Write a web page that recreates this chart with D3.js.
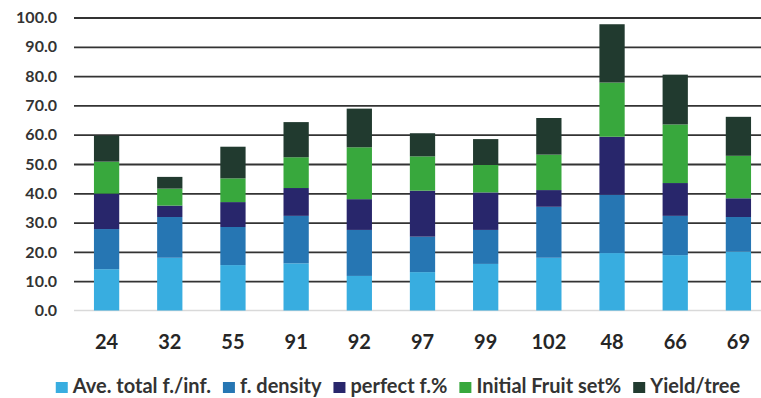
<!DOCTYPE html>
<html>
<head>
<meta charset="utf-8">
<script src="https://cdn.jsdelivr.net/npm/d3@7"></script>
<style>
  html, body { margin: 0; padding: 0; background: #fff; }
  svg { display: block; }
  text { font-family: Lato, "Open Sans", sans-serif; font-weight: 700; }
</style>
</head>
<body>
<svg id="chart" width="761" height="398"></svg>
<script>
// Genotypes along the x axis
const categories = ["24", "32", "55", "91", "92", "97", "99", "102", "48", "66", "69"];

// Series names, stacked from the bottom up
const seriesNames = ["Ave. total f./inf.", "f. density", "perfect f.%", "Initial Fruit set%", "Yield/tree"];

// Values per genotype for each series
const aveTotal      = [14.1, 18.0, 15.5, 16.1, 11.8, 13.1, 15.9, 18.0, 19.6, 18.9, 20.1];
const fDensity      = [13.7, 13.9, 13.0, 16.2, 15.7, 12.1, 11.6, 17.4, 19.9, 13.4, 11.8];
const perfectF      = [12.1,  3.9,  8.5,  9.5, 10.5, 15.7, 12.8,  5.7, 19.8, 11.2,  6.4];
const initialFruit  = [10.9,  5.8,  8.1, 10.5, 17.7, 11.7,  9.4, 12.1, 18.5, 20.0, 14.5];
const yieldTree     = [ 8.9,  4.0, 10.8, 12.0, 13.2,  7.9,  8.8, 12.5, 19.9, 17.0, 13.3];

// Y axis ticks
const yTicks = [0, 10, 20, 30, 40, 50, 60, 70, 80, 90, 100];

const colors = ["#38ade0", "#2676b3", "#28266b", "#38a83d", "#213a2f"];

const seriesValues = [aveTotal, fDensity, perfectF, initialFruit, yieldTree];
const rows = categories.map((c, i) => {
  const r = { cat: c };
  seriesNames.forEach((s, k) => { r[s] = seriesValues[k][i]; });
  return r;
});

const svg = d3.select("#chart");

const x = d3.scaleBand().domain(categories).range([75, 770]).paddingInner(0.6).paddingOuter(0.3);
const y = d3.scaleLinear().domain([0, 100]).range([310.5, 17.5]);

// Horizontal gridlines
const gridAxis = d3.axisLeft(y).tickValues(yTicks.filter(v => v > 0)).tickSize(-(761 - 74)).tickFormat("");
const grid = svg.append("g").attr("transform", "translate(74,0)").call(gridAxis);
grid.select(".domain").remove();
grid.selectAll(".tick line").attr("stroke", "#333").attr("stroke-width", 1.8);

// Baseline
svg.append("line")
  .attr("x1", 74).attr("x2", 761)
  .attr("y1", y(0)).attr("y2", y(0))
  .attr("stroke", "#d9d9d9").attr("stroke-width", 1.5);

// Stacked bars
const stack = d3.stack().keys(seriesNames);
const layers = stack(rows);

svg.append("g").selectAll("g")
  .data(layers)
  .join("g")
  .attr("fill", (d, i) => colors[i])
  .selectAll("rect")
  .data(d => d)
  .join("rect")
  .attr("x", d => x(d.data.cat))
  .attr("width", x.bandwidth())
  .attr("y", d => y(d[1]))
  .attr("height", d => y(d[0]) - y(d[1]));

// Y axis labels
const yAxis = d3.axisLeft(y).tickValues(yTicks).tickSize(0).tickPadding(0).tickFormat(d3.format(".1f"));
const ya = svg.append("g").attr("transform", "translate(57,0)").call(yAxis);
ya.select(".domain").remove();
ya.selectAll("text")
  .attr("fill", "#333")
  .style("font-size", "16px")
  .style("font-family", "Lato, sans-serif")
  .style("font-weight", "700");

// X axis labels
const xAxis = d3.axisBottom(x).tickSize(0).tickPadding(0);
const xa = svg.append("g").attr("transform", "translate(0,335)").call(xAxis);
xa.select(".domain").remove();
xa.selectAll("text")
  .attr("dy", "0.71em")
  .attr("fill", "#262626")
  .style("font-size", "20px")
  .style("font-family", "Lato, sans-serif")
  .style("font-weight", "700");

// Legend
const legend = svg.append("g");
const items = legend.selectAll("g")
  .data(seriesNames)
  .join("g");
items.append("rect")
  .attr("width", 12).attr("height", 11)
  .attr("y", 382)
  .attr("fill", (d, i) => colors[i]);
items.append("text")
  .attr("x", 17)
  .attr("y", 393)
  .attr("fill", "#333")
  .style("font-size", "20px")
  .text(d => d);

// Lay out legend entries side by side, centred under the plot
const gap = 12;
let cursor = 0;
const offsets = [];
items.each(function () {
  const w = 17 + this.querySelector("text").getComputedTextLength();
  offsets.push(cursor);
  cursor += w + gap;
});
const total = cursor - gap;
const start = (49 + 747) / 2 - total / 2;
items.attr("transform", (d, i) => `translate(${start + offsets[i]},0)`);
</script>
</body>
</html>
